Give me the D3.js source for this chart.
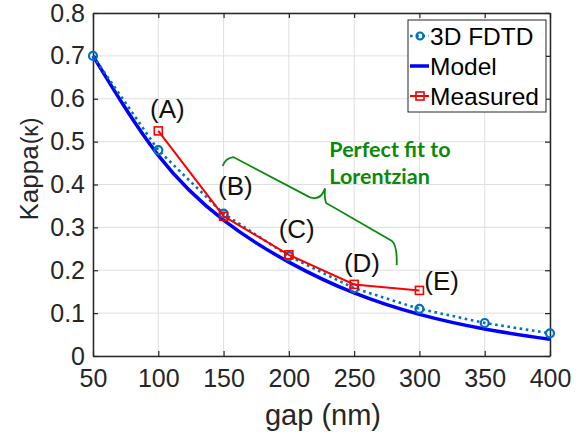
<!DOCTYPE html>
<html>
<head>
<meta charset="UTF-8">
<script src="https://d3js.org/d3.v7.min.js"></script>
<style>
  body { margin: 0; background: #fff; }
  text { font-family: "Liberation Sans", Arial, sans-serif; }
</style>
</head>
<body>
<svg></svg>
<script>
const width = 587;
const height = 441;
const margin = {top: 13, right: 37, bottom: 85, left: 93};

// series
const gapFdtd = [50, 100, 150, 200, 250, 300, 350, 400];
const kappaFdtd = [0.700, 0.480, 0.332, 0.233, 0.158, 0.110, 0.077, 0.053];

const gapModel = [50, 100, 150, 200, 250, 300, 350, 400];
const kappaModel = [0.700, 0.468, 0.317, 0.219, 0.147, 0.097, 0.063, 0.039];

const gapMeasured = [100, 150, 200, 250, 300];
const kappaMeasured = [0.525, 0.326, 0.236, 0.167, 0.153];

const xTicks = [50, 100, 150, 200, 250, 300, 350, 400];
const yTicks = [0, 0.1, 0.2, 0.3, 0.4, 0.5, 0.6, 0.7, 0.8];
const yTickLabels = ["0", "0.1", "0.2", "0.3", "0.4", "0.5", "0.6", "0.7", "0.8"];

const pointLabels = ["(A)", "(B)", "(C)", "(D)", "(E)"];
const pointLabelGap = [107, 159, 206, 256, 317];
const pointLabelKappa = [0.555, 0.376, 0.275, 0.197, 0.154];

const noteLines = ["Perfect fit to", "Lorentzian"];
const noteGap = 231;
const noteKappa = [0.465, 0.401];

// brace: left hook, diagonal, cusp, diagonal, right hook (gap, kappa)
const braceGap = [149.3, 151.5, 157.5, 216.2, 224.5, 227.7, 227, 228.5, 279, 283, 282.6];
const braceKappa = [0.443, 0.462, 0.464, 0.370, 0.362, 0.391, 0.367, 0.357, 0.268, 0.258, 0.212];

const legendNames = ["3D FDTD", "Model", "Measured"];

const ink = "#262626";
const cFdtd = "#0072bd";
const cModel = "#0000ff";
const cMeas = "#ff0000";
const cNote = "#0a8a0a";

const x = d3.scaleLinear().domain([50, 400]).range([margin.left, width - margin.right]);
const y = d3.scaleLinear().domain([0, 0.8]).range([height - margin.bottom, margin.top]);

const svg = d3.select("svg")
    .attr("width", width)
    .attr("height", height)
    .attr("viewBox", [0, 0, width, height]);

// grid
svg.append("g")
    .attr("stroke", "#dfdfdf")
    .attr("stroke-width", 1)
  .call(g => g.selectAll("line.v").data(xTicks).join("line")
      .attr("x1", d => x(d)).attr("x2", d => x(d))
      .attr("y1", y(0)).attr("y2", y(0.8)))
  .call(g => g.selectAll("line.h").data(yTicks).join("line").attr("class", "h")
      .attr("x1", x(50)).attr("x2", x(400))
      .attr("y1", d => y(d)).attr("y2", d => y(d)));

// axes, ticks inside on all sides
const tickLen = 5;
const axisStyle = g => g
    .call(g => g.select(".domain").attr("stroke", ink).attr("stroke-width", 1.5))
    .call(g => g.selectAll(".tick line").attr("stroke", ink).attr("stroke-width", 1.2))
    .call(g => g.selectAll(".tick text").attr("fill", ink).attr("font-size", 25));

svg.append("g")
    .attr("transform", `translate(0,${y(0)})`)
    .call(d3.axisBottom(x).tickValues(xTicks).tickSizeInner(-tickLen).tickSizeOuter(0).tickPadding(13).tickFormat(d3.format("d")))
    .call(axisStyle)
    .call(g => g.selectAll(".tick text").attr("dy", "0.71em"));

svg.append("g")
    .attr("transform", `translate(0,${y(0.8)})`)
    .call(d3.axisTop(x).tickValues(xTicks).tickSizeInner(-tickLen).tickSizeOuter(0).tickFormat(""))
    .call(axisStyle);

svg.append("g")
    .attr("transform", `translate(${x(50)},0)`)
    .call(d3.axisLeft(y).tickValues(yTicks).tickSizeInner(-tickLen).tickSizeOuter(0).tickPadding(8)
      .tickFormat((d, i) => yTickLabels[i]))
    .call(axisStyle);

svg.append("g")
    .attr("transform", `translate(${x(400)},0)`)
    .call(d3.axisRight(y).tickValues(yTicks).tickSizeInner(-tickLen).tickSizeOuter(0).tickFormat(""))
    .call(axisStyle);

// axis titles
svg.append("text")
    .attr("x", 323)
    .attr("y", 425)
    .attr("text-anchor", "middle")
    .attr("fill", ink)
    .attr("font-size", 29)
    .text("gap (nm)");

svg.append("text")
    .attr("transform", `translate(38,169) rotate(-90)`)
    .attr("text-anchor", "middle")
    .attr("fill", ink)
    .attr("font-size", 26)
    .call(t => t.append("tspan").text("Kappa"))
    .call(t => t.append("tspan").attr("font-size", 23).attr("dx", 1).text("(κ)"));

// lines
const line = d3.line().x(d => x(d[0])).y(d => y(d[1]));
const plot = svg.append("g");

plot.append("path")
    .datum(d3.zip(gapModel, kappaModel))
    .attr("fill", "none")
    .attr("stroke", cModel)
    .attr("stroke-width", 3.5)
    .attr("d", line.curve(d3.curveNatural));

plot.append("path")
    .datum(d3.zip(gapFdtd, kappaFdtd))
    .attr("fill", "none")
    .attr("stroke", cFdtd)
    .attr("stroke-width", 2.6)
    .attr("stroke-dasharray", "2.6 3.6")
    .attr("d", line.curve(d3.curveLinear));

plot.selectAll("circle.fdtd")
    .data(d3.zip(gapFdtd, kappaFdtd))
    .join("circle")
    .attr("cx", d => x(d[0]))
    .attr("cy", d => y(d[1]))
    .attr("r", 4)
    .attr("fill", "none")
    .attr("stroke", cFdtd)
    .attr("stroke-width", 2.2);

plot.append("path")
    .datum(d3.zip(gapMeasured, kappaMeasured))
    .attr("fill", "none")
    .attr("stroke", cMeas)
    .attr("stroke-width", 2)
    .attr("d", line.curve(d3.curveLinear));

plot.selectAll("rect.meas")
    .data(d3.zip(gapMeasured, kappaMeasured))
    .join("rect")
    .attr("x", d => x(d[0]) - 4)
    .attr("y", d => y(d[1]) - 4)
    .attr("width", 8)
    .attr("height", 8)
    .attr("fill", "none")
    .attr("stroke", cMeas)
    .attr("stroke-width", 1.6);

// point labels
svg.append("g")
    .attr("font-size", 26)
    .attr("fill", "#111")
    .attr("text-anchor", "middle")
  .selectAll("text")
  .data(pointLabels)
  .join("text")
    .attr("x", (d, i) => x(pointLabelGap[i]))
    .attr("y", (d, i) => y(pointLabelKappa[i]))
    .text(d => d);

// brace and note
const bp = d3.zip(braceGap, braceKappa).map(d => [x(d[0]), y(d[1])]);
const brace = d3.path();
brace.moveTo(...bp[0]);
brace.quadraticCurveTo(...bp[1], ...bp[2]);
brace.lineTo(...bp[3]);
brace.quadraticCurveTo(...bp[4], ...bp[5]);
brace.quadraticCurveTo(...bp[6], ...bp[7]);
brace.lineTo(...bp[8]);
brace.quadraticCurveTo(...bp[9], ...bp[10]);

svg.append("path")
    .attr("d", brace.toString())
    .attr("fill", "none")
    .attr("stroke", cNote)
    .attr("stroke-width", 1.8);

svg.append("g")
    .attr("fill", cNote)
    .attr("font-size", 21.5)
    .attr("font-weight", "bold")
  .selectAll("text")
  .data(noteLines)
  .join("text")
    .attr("x", x(noteGap))
    .attr("y", (d, i) => y(noteKappa[i]))
    .style("font-family", "Lato, sans-serif")
    .text(d => d);

// legend
const lg = svg.append("g").attr("transform", "translate(408,20)");
lg.append("rect")
    .attr("width", 138)
    .attr("height", 92)
    .attr("fill", "#fff")
    .attr("stroke", ink)
    .attr("stroke-width", 1);

const rowY = [16, 46, 76];
const rows = lg.selectAll("g.row")
  .data(legendNames)
  .join("g")
    .attr("transform", (d, i) => `translate(0,${rowY[i]})`);

rows.append("text")
    .attr("x", 22)
    .attr("dy", "0.36em")
    .attr("font-size", 24.5)
    .attr("fill", "#000")
    .text(d => d);

rows.filter((d, i) => i === 0).call(r => {
  r.append("line").attr("x1", 2).attr("x2", 21)
    .attr("stroke", cFdtd).attr("stroke-width", 2.6).attr("stroke-dasharray", "2.6 3.6");
  r.append("circle").attr("cx", 12).attr("r", 3.5)
    .attr("fill", "none").attr("stroke", cFdtd).attr("stroke-width", 2.2);
});
rows.filter((d, i) => i === 1)
  .append("line").attr("x1", 2).attr("x2", 21)
    .attr("stroke", cModel).attr("stroke-width", 3.5);
rows.filter((d, i) => i === 2).call(r => {
  r.append("line").attr("x1", 2).attr("x2", 21)
    .attr("stroke", cMeas).attr("stroke-width", 2);
  r.append("rect").attr("x", 8).attr("y", -4).attr("width", 8).attr("height", 8)
    .attr("fill", "none").attr("stroke", cMeas).attr("stroke-width", 1.6);
});
</script>
</body>
</html>
